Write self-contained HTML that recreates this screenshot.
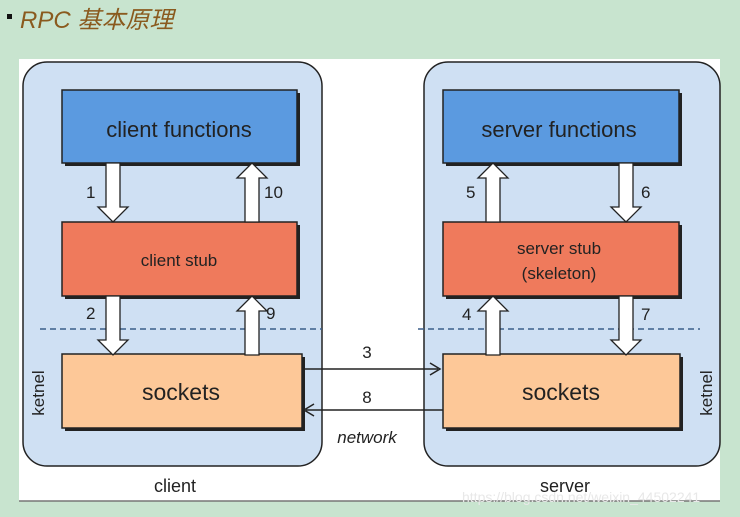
<!DOCTYPE html>
<html><head><meta charset="utf-8"><style>
html,body{margin:0;padding:0;background:#c8e4cf;width:740px;height:517px;overflow:hidden}
svg{display:block}
text{font-family:"Liberation Sans",Arial,sans-serif;fill:#222}
</style></head><body>
<svg width="740" height="517" viewBox="0 0 740 517">
<rect width="740" height="517" fill="#c8e4cf"/>
<rect x="7" y="14" width="5" height="5" fill="#111"/>
<text x="20" y="28" style="font-family:'Liberation Sans','Noto Sans CJK SC',sans-serif;fill:#8a5a1e;font-style:italic" font-size="24">RPC 基本原理</text>
<rect x="19" y="59" width="701" height="442" fill="#fff"/>
<line x1="19" y1="501" x2="720" y2="501" stroke="#777" stroke-width="1.5"/>
<rect x="23" y="62" width="299" height="404" rx="24" fill="#cfe0f3" stroke="#222" stroke-width="1.5"/>
<rect x="424" y="62" width="296" height="404" rx="24" fill="#cfe0f3" stroke="#222" stroke-width="1.5"/>
<line x1="40" y1="329" x2="322" y2="329" stroke="#3b5f8a" stroke-width="1.5" stroke-dasharray="6,4"/>
<line x1="418" y1="329" x2="700" y2="329" stroke="#3b5f8a" stroke-width="1.5" stroke-dasharray="6,4"/>
<defs>
<g id="dn"><path d="M-7,0 H7 V44 H15 L0,59 L-15,44 H-7 Z" fill="#fff" stroke="#222" stroke-width="1.3"/></g>
<g id="up"><path d="M-7,59 H7 V15 H15 L0,0 L-15,15 H-7 Z" fill="#fff" stroke="#222" stroke-width="1.3"/></g>
</defs>
<rect x="65" y="93" width="235" height="73" fill="#222"/>
<rect x="62" y="90" width="235" height="73" fill="#5b9ae0" stroke="#222" stroke-width="1.5"/>
<text x="179" y="137" font-size="22" text-anchor="middle">client functions</text>
<rect x="65" y="225" width="235" height="74" fill="#222"/>
<rect x="62" y="222" width="235" height="74" fill="#ef7a5c" stroke="#222" stroke-width="1.5"/>
<text x="179" y="266" font-size="17" text-anchor="middle">client stub</text>
<rect x="65" y="357" width="240" height="74" fill="#222"/>
<rect x="62" y="354" width="240" height="74" fill="#fdc898" stroke="#222" stroke-width="1.5"/>
<text x="181" y="400" font-size="23" text-anchor="middle">sockets</text>
<rect x="446" y="93" width="236" height="73" fill="#222"/>
<rect x="443" y="90" width="236" height="73" fill="#5b9ae0" stroke="#222" stroke-width="1.5"/>
<text x="559" y="137" font-size="22" text-anchor="middle">server functions</text>
<rect x="446" y="225" width="236" height="74" fill="#222"/>
<rect x="443" y="222" width="236" height="74" fill="#ef7a5c" stroke="#222" stroke-width="1.5"/>
<text x="559" y="254" font-size="17" text-anchor="middle">server stub</text>
<text x="559" y="279" font-size="17" text-anchor="middle">(skeleton)</text>
<rect x="446" y="357" width="237" height="74" fill="#222"/>
<rect x="443" y="354" width="237" height="74" fill="#fdc898" stroke="#222" stroke-width="1.5"/>
<text x="561" y="400" font-size="23" text-anchor="middle">sockets</text>
<use href="#dn" x="113" y="163"/><use href="#up" x="252" y="163"/>
<use href="#dn" x="113" y="296"/><use href="#up" x="252" y="296"/>
<use href="#up" x="493" y="163"/><use href="#dn" x="626" y="163"/>
<use href="#up" x="493" y="296"/><use href="#dn" x="626" y="296"/>
<g font-size="17">
<text x="86" y="198">1</text><text x="264" y="198">10</text>
<text x="86" y="319">2</text><text x="266" y="319">9</text>
<text x="466" y="198">5</text><text x="641" y="198">6</text>
<text x="462" y="320">4</text><text x="641" y="320">7</text>
</g>
<line x1="303" y1="369" x2="438" y2="369" stroke="#222" stroke-width="1.5"/>
<path d="M430,363 L440,369 L430,375" fill="none" stroke="#222" stroke-width="1.5"/>
<line x1="306" y1="410" x2="443" y2="410" stroke="#222" stroke-width="1.5"/>
<path d="M314,404 L304,410 L314,416" fill="none" stroke="#222" stroke-width="1.5"/>
<text x="367" y="358" font-size="17" text-anchor="middle">3</text>
<text x="367" y="403" font-size="17" text-anchor="middle">8</text>
<text x="367" y="443" font-size="17" font-style="italic" text-anchor="middle">network</text>
<text transform="translate(44,393) rotate(-90)" font-size="17" text-anchor="middle">ketnel</text>
<text transform="translate(712,393) rotate(-90)" font-size="17" text-anchor="middle">ketnel</text>
<text x="175" y="492" font-size="18" text-anchor="middle">client</text>
<text x="565" y="492" font-size="18" text-anchor="middle">server</text>
<text x="462" y="502" font-size="14" style="fill:#e8e8e8">https://blog.csdn.net/weixin_44502241</text>
</svg>
</body></html>
